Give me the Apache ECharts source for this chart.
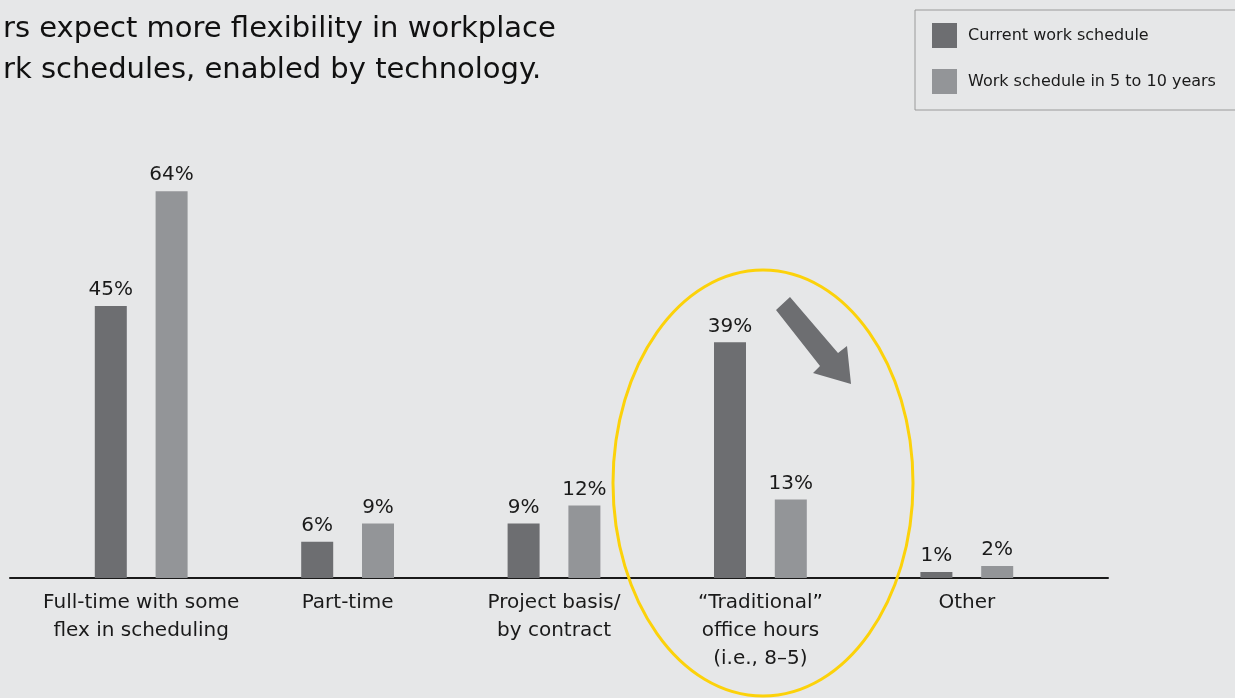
<!DOCTYPE html>
<html>
<head>
<meta charset="utf-8">
<script src="https://cdn.jsdelivr.net/npm/echarts@6/dist/echarts.min.js"></script>
<style>
  html, body { margin: 0; padding: 0; background: #e6e7e8; }
  #chart { width: 1235px; height: 698px; }
</style>
</head>
<body>
<div id="chart"></div>
<script>
const categories = [
  'Full-time with some\nflex in scheduling',
  'Part-time',
  'Project basis/\nby contract',
  '\u201cTraditional\u201d\noffice hours\n(i.e., 8\u20135)',
  'Other'
];
const currentSchedule = [45, 6, 9, 39, 1];
const futureSchedule = [64, 9, 12, 13, 2];
const seriesNames = ['Current work schedule', 'Work schedule in 5 to 10 years'];
const titleLines = ['rs expect more flexibility in workplace', 'rk schedules, enabled by technology.'];

const FONT = '"DejaVu Sans", "Noto Sans", sans-serif';
const DARK = '#6d6e71';
const LIGHT = '#939598';

const chart = echarts.init(document.getElementById('chart'));

const barLabel = {
  show: true,
  position: 'top',
  distance: 6,
  color: '#1a1a1a',
  fontFamily: FONT,
  fontSize: 20,
  formatter: p => p.value + '%'
};

chart.setOption({
  backgroundColor: '#e6e7e8',
  animation: false,
  title: {
    text: titleLines.join('\n'),
    left: -2,
    top: 4,
    textStyle: {
      fontFamily: FONT,
      fontSize: 29,
      fontWeight: 'normal',
      color: '#111',
      lineHeight: 41
    }
  },
  legend: {
    orient: 'vertical',
    left: 915,
    top: 10,
    padding: [13, 60, 16, 17],
    itemWidth: 25,
    itemHeight: 25,
    itemGap: 21,
    icon: 'rect',
    borderColor: '#9a9a9a',
    borderWidth: 1,
    textStyle: { fontFamily: FONT, fontSize: 16, color: '#1a1a1a', padding: [2, 0, 0, 6] },
    data: seriesNames
  },
  grid: [
    { left: 38, right: 165, top: 155, bottom: 120 },
    { left: 10, right: 127, top: 155, bottom: 120 }
  ],
  xAxis: [
    {
      type: 'category',
      gridIndex: 0,
      data: categories,
      axisLine: { show: false },
      axisTick: { show: false },
      axisLabel: {
        margin: 11,
        color: '#1a1a1a',
        fontFamily: FONT,
        fontSize: 20,
        lineHeight: 28,
        interval: 0
      }
    },
    {
      type: 'value',
      gridIndex: 1,
      min: 0,
      max: 1,
      axisLine: { show: true, lineStyle: { color: '#1a1a1a', width: 2 } },
      axisTick: { show: false },
      axisLabel: { show: false },
      splitLine: { show: false }
    }
  ],
  yAxis: [
    { type: 'value', gridIndex: 0, min: 0, max: 70, show: false },
    { type: 'value', gridIndex: 1, min: 0, max: 70, show: false }
  ],
  series: [
    {
      name: seriesNames[0],
      type: 'bar',
      data: currentSchedule,
      barWidth: 32,
      barGap: '90%',
      itemStyle: { color: DARK },
      label: barLabel
    },
    {
      name: seriesNames[1],
      type: 'bar',
      data: futureSchedule,
      barWidth: 32,
      barGap: '90%',
      itemStyle: { color: LIGHT },
      label: barLabel
    }
  ],
  graphic: [
    {
      type: 'polygon',
      z: 10,
      shape: {
        points: [[776, 310], [790, 297], [838, 353], [847, 346], [851, 384], [813, 373], [820, 366]]
      },
      style: { fill: DARK }
    },
    {
      type: 'ellipse',
      z: 11,
      shape: { cx: 763, cy: 483, rx: 150, ry: 213 },
      style: { fill: 'none', stroke: '#fcd20a', lineWidth: 3 }
    }
  ]
});
</script>
</body>
</html>
